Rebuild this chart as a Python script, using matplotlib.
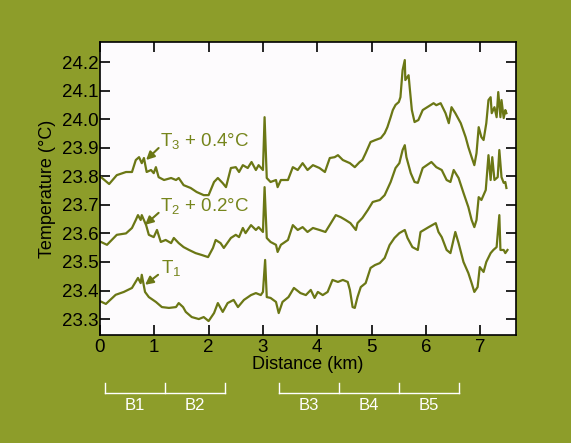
import numpy as np
import matplotlib
matplotlib.use("Agg")
import matplotlib.pyplot as plt
import matplotlib.transforms as mtransforms

plt.rcParams['font.family'] = ['Liberation Sans', 'DejaVu Sans']
plt.rcParams['mathtext.fontset'] = 'custom'
plt.rcParams['mathtext.rm'] = 'Liberation Sans'

#------------------------datos------------------------
# distancia (km) y temperatura (°C)
d1 = [0.02, 0.11, 0.29, 0.44, 0.59, 0.70, 0.75, 0.77, 0.83, 0.90, 1.03, 1.14, 1.27, 1.40, 1.45,
      1.53, 1.58, 1.69, 1.82, 1.91, 2.00, 2.10, 2.17, 2.26, 2.35, 2.46, 2.54, 2.65, 2.78, 2.87,
      2.96, 3.00, 3.04, 3.07, 3.14, 3.24, 3.29, 3.36, 3.47, 3.57, 3.69, 3.79, 3.88, 3.95, 4.01,
      4.10, 4.19, 4.28, 4.38, 4.47, 4.56, 4.60, 4.65, 4.69, 4.74, 4.80, 4.89, 4.98, 5.06, 5.15,
      5.24, 5.33, 5.42, 5.51, 5.61, 5.66, 5.75, 5.85, 5.90, 6.05, 6.18, 6.23, 6.29, 6.38, 6.45,
      6.54, 6.60, 6.69, 6.78, 6.84, 6.89, 6.95, 6.99, 7.06, 7.11, 7.19, 7.24, 7.30, 7.35, 7.37,
      7.43, 7.46, 7.50]
t1 = [23.361, 23.353, 23.385, 23.395, 23.409, 23.444, 23.426, 23.455, 23.395, 23.377, 23.360,
      23.342, 23.339, 23.342, 23.356, 23.342, 23.325, 23.307, 23.300, 23.307, 23.293, 23.321,
      23.356, 23.325, 23.356, 23.367, 23.342, 23.367, 23.384, 23.391, 23.384, 23.395, 23.507,
      23.377, 23.374, 23.360, 23.321, 23.360, 23.377, 23.409, 23.391, 23.384, 23.402, 23.374,
      23.395, 23.384, 23.395, 23.437, 23.430, 23.437, 23.430, 23.402, 23.342, 23.339, 23.377,
      23.412, 23.426, 23.479, 23.489, 23.496, 23.514, 23.559, 23.584, 23.601, 23.612, 23.584,
      23.552, 23.542, 23.605, 23.622, 23.636, 23.605, 23.587, 23.542, 23.531, 23.605, 23.566,
      23.500, 23.461, 23.426, 23.395, 23.412, 23.482, 23.465, 23.500, 23.531, 23.542, 23.552,
      23.664, 23.542, 23.542, 23.531, 23.542]

d2 = [0.02, 0.13, 0.31, 0.48, 0.59, 0.66, 0.70, 0.75, 0.77, 0.85, 0.90, 0.99, 1.05, 1.12, 1.21,
      1.31, 1.36, 1.45, 1.54, 1.64, 1.76, 1.88, 1.99, 2.08, 2.13, 2.22, 2.28, 2.41, 2.50, 2.56,
      2.63, 2.68, 2.78, 2.87, 2.92, 3.00, 3.03, 3.07, 3.14, 3.24, 3.27, 3.33, 3.46, 3.55, 3.64,
      3.73, 3.82, 3.92, 4.04, 4.15, 4.25, 4.34, 4.43, 4.52, 4.61, 4.71, 4.74, 4.83, 4.93, 5.02,
      5.15, 5.24, 5.35, 5.44, 5.51, 5.57, 5.61, 5.64, 5.72, 5.79, 5.85, 5.94, 6.10, 6.19, 6.29,
      6.38, 6.45, 6.51, 6.60, 6.69, 6.78, 6.84, 6.89, 6.93, 6.97, 7.02, 7.10, 7.15, 7.19, 7.22,
      7.26, 7.32, 7.35, 7.39, 7.43, 7.46, 7.48]
t2 = [23.570, 23.560, 23.595, 23.600, 23.619, 23.647, 23.664, 23.647, 23.664, 23.629, 23.595,
      23.587, 23.612, 23.570, 23.577, 23.566, 23.584, 23.566, 23.552, 23.542, 23.531, 23.524,
      23.517, 23.549, 23.577, 23.566, 23.549, 23.584, 23.595, 23.587, 23.619, 23.601, 23.629,
      23.612, 23.622, 23.605, 23.762, 23.584, 23.570, 23.560, 23.535, 23.560, 23.577, 23.629,
      23.612, 23.622, 23.605, 23.619, 23.612, 23.605, 23.636, 23.664, 23.657, 23.647, 23.636,
      23.612, 23.636, 23.654, 23.682, 23.710, 23.717, 23.734, 23.780, 23.829, 23.846, 23.892,
      23.909, 23.867, 23.811, 23.780, 23.777, 23.829, 23.850, 23.832, 23.822, 23.787, 23.780,
      23.822, 23.794, 23.742, 23.692, 23.647, 23.622, 23.647, 23.727, 23.717, 23.752, 23.874,
      23.787, 23.867, 23.787, 23.797, 23.892, 23.797, 23.777, 23.780, 23.759]

d3 = [0.02, 0.17, 0.31, 0.48, 0.59, 0.66, 0.72, 0.77, 0.81, 0.86, 0.94, 0.99, 1.03, 1.08, 1.18,
      1.31, 1.40, 1.45, 1.54, 1.67, 1.78, 1.91, 2.00, 2.10, 2.17, 2.26, 2.32, 2.41, 2.50, 2.56,
      2.63, 2.72, 2.79, 2.87, 2.92, 3.00, 3.03, 3.07, 3.14, 3.24, 3.27, 3.33, 3.46, 3.55, 3.64,
      3.73, 3.82, 3.92, 4.04, 4.14, 4.23, 4.32, 4.38, 4.47, 4.60, 4.69, 4.78, 4.83, 4.89, 4.98,
      5.07, 5.17, 5.24, 5.29, 5.35, 5.39, 5.44, 5.50, 5.53, 5.57, 5.61, 5.62, 5.68, 5.70, 5.74,
      5.79, 5.86, 5.94, 6.14, 6.19, 6.27, 6.36, 6.42, 6.47, 6.54, 6.64, 6.73, 6.78, 6.84, 6.89,
      6.93, 6.97, 7.02, 7.06, 7.11, 7.15, 7.19, 7.21, 7.26, 7.30, 7.33, 7.37, 7.39, 7.43, 7.46,
      7.48]
t3 = [23.797, 23.773, 23.804, 23.815, 23.815, 23.857, 23.867, 23.846, 23.864, 23.815, 23.822,
      23.811, 23.832, 23.797, 23.787, 23.794, 23.787, 23.794, 23.769, 23.759, 23.745, 23.734,
      23.734, 23.780, 23.794, 23.776, 23.762, 23.829, 23.832, 23.815, 23.839, 23.829, 23.850,
      23.822, 23.839, 23.822, 24.007, 23.794, 23.780, 23.787, 23.762, 23.787, 23.787, 23.832,
      23.822, 23.846, 23.822, 23.839, 23.829, 23.815, 23.864, 23.867, 23.874, 23.857, 23.846,
      23.832, 23.850, 23.857, 23.881, 23.920, 23.927, 23.934, 23.951, 23.972, 24.007, 24.032,
      24.050, 24.060, 24.077, 24.172, 24.207, 24.137, 24.154, 24.112, 24.032, 23.990, 23.997,
      24.032, 24.056, 24.049, 24.056, 24.021, 23.986, 24.042, 24.021, 23.986, 23.937, 23.902,
      23.867, 23.839, 23.881, 23.972, 23.937, 23.927, 23.986, 24.067, 24.077, 24.021, 24.042,
      24.007, 24.095, 24.007, 24.067, 24.004, 24.032, 24.021]

etiquetas = [r'T$_1$', r'T$_2$ + 0.2°C', r'T$_3$ + 0.4°C']
# punta de flecha, cola de flecha, posicion del texto
flecha_punta = [(0.83, 23.42), (0.83, 23.630), (0.85, 23.857)]
flecha_cola = [(1.07, 23.455), (1.08, 23.672), (1.08, 23.899)]
texto_pos = [(1.13, 23.475), (1.11, 23.692), (1.11, 23.922)]

# bloques B1..B5 (limites en km)
bloques_a = [0.1, 1.2, 2.3]
bloques_b = [3.3, 4.4, 5.5, 6.6]
nombres_a = ['B1', 'B2']
nombres_b = ['B3', 'B4', 'B5']

#------------------------colores------------------------
fondo = '#8d9d2a'
verde = '#6b7715'
verde_txt = '#76851c'

#------------------------grafico------------------------
fig = plt.figure(figsize=(5.71, 4.43), dpi=100, facecolor=fondo)
ax = fig.add_axes([0.175, 0.244, 0.729, 0.661])
ax.set_facecolor('#fdfbfd')

for d, t in [(d1, t1), (d2, t2), (d3, t3)]:
    ax.plot(d, t, color=verde, lw=1.6)

for lab, p, c, tp in zip(etiquetas, flecha_punta, flecha_cola, texto_pos):
    ax.annotate('', xy=p, xytext=c,
                arrowprops=dict(arrowstyle='-|>', color=verde, lw=1.5, mutation_scale=12,
                                shrinkA=0, shrinkB=0))
    ax.text(tp[0], tp[1], lab, color=verde_txt, fontsize=13.5, ha='left', va='center')

ax.set_xlim(0, 7.66)
ax.set_ylim(23.2445, 24.27)
ax.set_xticks(np.arange(0, 8, 1))
ax.set_yticks(np.round(np.arange(23.3, 24.25, 0.1), 1))
ax.set_yticklabels([f'{v:.1f}' for v in np.arange(23.3, 24.25, 0.1)])
ax.tick_params(direction='in', length=7, width=1.2, top=True, right=True,
               labelsize=13.5, colors='black')
ax.tick_params(axis='y', pad=1)
ax.tick_params(axis='x', pad=3)
for s in ax.spines.values():
    s.set_linewidth(1.2)

ax.set_xlabel('Distance (km)', fontsize=13, labelpad=0)
ax.set_ylabel('Temperature (°C)', fontsize=13, labelpad=4)

# --- corchetes de bloques ---
trans = mtransforms.blended_transform_factory(ax.transData, ax.transAxes)
for bordes, nombres in [(bloques_a, nombres_a), (bloques_b, nombres_b)]:
    ax.plot([bordes[0], bordes[-1]], [-0.198, -0.198], color='white', lw=1,
            transform=trans, clip_on=False)
    for b in bordes:
        ax.plot([b, b], [-0.198, -0.164], color='white', lw=1,
                transform=trans, clip_on=False)
    for i, n in enumerate(nombres):
        ax.text((bordes[i] + bordes[i + 1]) / 2, -0.24, n, color='white', fontsize=12,
                ha='center', va='center', transform=trans)

fig.savefig('out.png', dpi=100, facecolor=fondo)
